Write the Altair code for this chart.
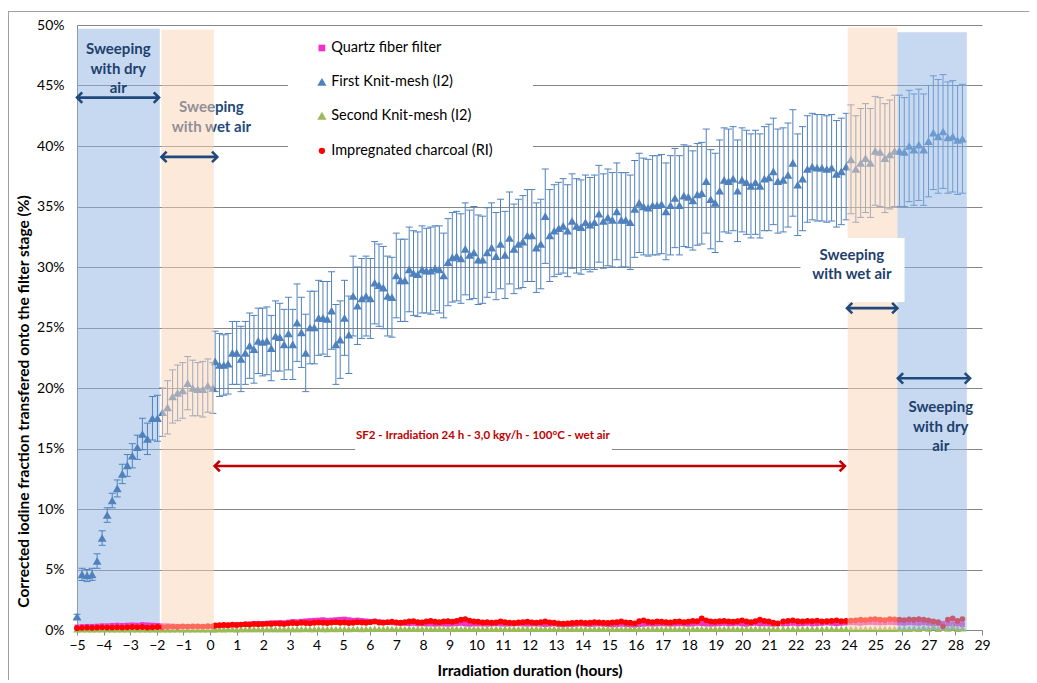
import altair as alt
import pandas as pd

alt.data_transformers.disable_max_rows()

# ---------------- data ----------------
# sampling schedule of the measurements (start hour, step in hours, number of samples)
SEG_START = [-5.0, 0.19, 10.24, 21.53]
SEG_STEP = [0.189, 0.162, 0.168, 0.182]
SEG_COUNT = [28, 62, 67, 38]

# First Knit-mesh (I2) (%)
KNIT1 = [
    1.1, 4.6, 4.5, 4.6, 5.7, 7.6, 9.5, 10.7, 11.7, 12.9, 13.6, 14.4, 15.1, 16.2, 15.8, 17.5, 17.5, 18.0, 18.4, 19.3,
    19.6, 19.8, 20.4, 20.0, 19.9, 19.9, 20.2, 20.0,
    22.2, 21.9, 21.9, 22.0, 22.9, 22.9, 22.4, 22.9, 23.5, 23.2, 23.9, 23.8, 23.9, 23.3, 24.3, 24.2, 23.6, 24.5, 23.6, 25.4,
    24.6, 22.9, 25.0, 25.0, 25.8, 25.8, 25.7, 26.4, 23.6, 24.0, 25.8, 24.4, 27.6, 26.8, 27.4, 27.6, 27.4, 28.7, 28.5, 28.3,
    27.6, 27.5, 29.3, 28.9, 28.9, 29.8, 29.5, 29.4, 29.8, 29.7, 29.7, 29.9, 29.8, 29.3, 30.4, 30.8, 30.9, 30.7, 31.5, 31.0,
    31.2, 30.6,
    30.6, 31.2, 31.6, 30.9, 31.9, 31.0, 32.4, 31.5, 31.9, 32.1, 32.6, 32.6, 31.6, 31.9, 34.2, 32.6, 33.0, 33.2, 33.4, 33.0,
    33.8, 33.4, 33.3, 33.7, 33.5, 33.7, 34.4, 33.8, 34.1, 33.9, 34.6, 33.9, 33.9, 33.7, 34.8, 35.3, 35.0, 34.9, 35.1, 35.1,
    35.2, 34.6, 35.1, 35.7, 35.1, 35.9, 35.8, 35.5, 36.0, 36.1, 37.1, 35.6, 35.3, 36.3, 37.2, 37.1, 37.3, 36.3, 37.2, 37.0,
    36.7, 37.0, 36.7, 37.3, 37.4, 37.9, 37.1,
    37.2, 37.6, 38.6, 36.8, 37.3, 38.1, 38.3, 38.2, 38.2, 38.1, 38.2, 37.7, 37.9, 38.3, 38.9, 38.1, 38.6, 39.0, 38.6, 39.6,
    39.5, 39.0, 39.3, 39.6, 39.6, 39.5, 40.0, 39.7, 40.1, 39.7, 40.4, 41.1, 40.8, 41.2, 40.7, 40.8, 40.5, 40.6,
]
# error bar half-width of the First Knit-mesh (%)
KNIT1_ERR = [
    0.2, 0.5, 0.5, 0.5, 0.6, 0.6, 0.6, 0.6, 0.7, 0.8, 0.9, 1.0, 1.0, 1.3, 1.3, 1.8, 1.9, 2.0, 2.2, 2.2,
    2.3, 2.3, 2.2, 2.3, 2.2, 2.3, 2.2, 2.1,
    2.5, 2.6, 2.5, 2.5, 2.6, 2.6, 2.7, 2.6, 2.7, 2.8, 2.7, 2.8, 2.8, 2.7, 2.9, 2.8, 2.9, 3.0, 2.9, 3.2,
    2.9, 3.2, 3.0, 3.0, 3.1, 3.0, 3.1, 3.2, 3.3, 3.2, 3.1, 3.2, 3.3, 3.2, 3.3, 3.3, 3.3, 3.4, 3.4, 3.4,
    3.3, 3.3, 3.5, 3.4, 3.4, 3.5, 3.5, 3.5, 3.6, 3.5, 3.6, 3.5, 3.6, 3.5, 3.6, 3.7, 3.7, 3.7, 3.8, 3.7,
    3.8, 3.7,
    3.6, 3.7, 3.7, 3.6, 3.7, 3.6, 3.8, 3.7, 3.7, 3.8, 3.8, 3.8, 3.7, 3.7, 3.9, 3.8, 3.8, 3.8, 3.9, 3.8,
    3.9, 3.9, 3.9, 3.9, 3.9, 3.9, 4.0, 3.9, 4.0, 3.9, 4.0, 3.9, 3.9, 3.9, 4.0, 4.1, 4.0, 4.0, 4.1, 4.1,
    4.1, 4.0, 4.1, 4.1, 4.1, 4.2, 4.2, 4.1, 4.2, 4.2, 4.3, 4.1, 4.1, 4.2, 4.3, 4.3, 4.3, 4.2, 4.3, 4.3,
    4.3, 4.3, 4.3, 4.3, 4.4, 4.4, 4.3,
    4.3, 4.3, 4.4, 4.2, 4.3, 4.4, 4.4, 4.4, 4.4, 4.4, 4.4, 4.4, 4.4, 4.4, 4.5, 4.4, 4.5, 4.5, 4.5, 4.5,
    4.5, 4.5, 4.5, 4.6, 4.6, 4.5, 4.6, 4.6, 4.6, 4.6, 4.6, 4.7, 4.7, 4.7, 4.6, 4.6, 4.5, 4.5,
]
# Quartz fiber filter (%)
QUARTZ = [
    0.25, 0.28, 0.3, 0.3, 0.32, 0.35, 0.35, 0.38, 0.4, 0.38, 0.4, 0.42, 0.4, 0.45, 0.42, 0.4, 0.38, 0.35, 0.35, 0.32,
    0.3, 0.3, 0.28, 0.3, 0.3, 0.28, 0.3, 0.3,
    0.35, 0.35, 0.38, 0.4, 0.4, 0.42, 0.45, 0.45, 0.5, 0.52, 0.55, 0.5, 0.55, 0.6, 0.58, 0.62, 0.6, 0.65, 0.7, 0.68,
    0.72, 0.75, 0.78, 0.8, 0.82, 0.85, 0.8, 0.82, 0.85, 0.88, 0.9, 0.85, 0.8, 0.82, 0.78, 0.75, 0.7, 0.72, 0.68, 0.65,
    0.62, 0.6, 0.58, 0.55, 0.55, 0.52, 0.55, 0.5, 0.52, 0.5, 0.5, 0.48, 0.5, 0.5, 0.48, 0.5, 0.52, 0.55, 0.5, 0.48,
    0.5, 0.5,
    0.5, 0.48, 0.5, 0.52, 0.5, 0.48, 0.5, 0.5, 0.52, 0.5, 0.48, 0.5, 0.5, 0.48, 0.45, 0.48, 0.5, 0.45, 0.42, 0.45,
    0.45, 0.48, 0.5, 0.48, 0.45, 0.48, 0.5, 0.48, 0.45, 0.42, 0.45, 0.48, 0.45, 0.42, 0.4, 0.45, 0.48, 0.5, 0.48, 0.5,
    0.52, 0.5, 0.48, 0.5, 0.52, 0.5, 0.48, 0.5, 0.55, 0.52, 0.5, 0.48, 0.5, 0.52, 0.55, 0.5, 0.52, 0.55, 0.5, 0.48,
    0.52, 0.55, 0.5, 0.52, 0.5, 0.48, 0.5,
    0.5, 0.52, 0.55, 0.5, 0.52, 0.55, 0.5, 0.52, 0.55, 0.58, 0.55, 0.52, 0.55, 0.58, 0.6, 0.58, 0.55, 0.6, 0.62, 0.6,
    0.58, 0.6, 0.62, 0.6, 0.58, 0.55, 0.6, 0.58, 0.55, 0.6, 0.55, 0.5, 0.52, 0.55, 0.5, 0.48, 0.5, 0.45,
]
# Second Knit-mesh (I2) (%)
KNIT2 = [
    0.05, 0.06, 0.05, 0.06, 0.05, 0.06, 0.06, 0.05, 0.06, 0.06, 0.05, 0.06, 0.06, 0.05, 0.06, 0.05, 0.06, 0.06, 0.05, 0.06,
    0.06, 0.05, 0.06, 0.06, 0.05, 0.06, 0.06, 0.05,
    0.06, 0.07, 0.06, 0.07, 0.07, 0.06, 0.07, 0.07, 0.08, 0.07, 0.07, 0.08, 0.07, 0.08, 0.08, 0.07, 0.08, 0.08, 0.07, 0.08,
    0.08, 0.09, 0.08, 0.08, 0.09, 0.08, 0.08, 0.09, 0.08, 0.09, 0.09, 0.08, 0.09, 0.09, 0.08, 0.09, 0.09, 0.1, 0.09, 0.09,
    0.1, 0.09, 0.09, 0.1, 0.09, 0.1, 0.1, 0.09, 0.1, 0.1, 0.09, 0.1, 0.1, 0.09, 0.1, 0.1, 0.1, 0.09, 0.1, 0.1,
    0.1, 0.09,
    0.1, 0.1, 0.09, 0.1, 0.1, 0.11, 0.1, 0.1, 0.09, 0.1, 0.1, 0.11, 0.1, 0.1, 0.1, 0.09, 0.1, 0.11, 0.1, 0.1,
    0.1, 0.1, 0.11, 0.1, 0.09, 0.1, 0.1, 0.11, 0.1, 0.1, 0.11, 0.1, 0.1, 0.1, 0.09, 0.1, 0.11, 0.1, 0.1, 0.11,
    0.1, 0.1, 0.1, 0.11, 0.1, 0.1, 0.09, 0.1, 0.11, 0.1, 0.1, 0.1, 0.11, 0.1, 0.1, 0.1, 0.11, 0.1, 0.1, 0.1,
    0.11, 0.1, 0.1, 0.11, 0.1, 0.1, 0.1,
    0.1, 0.11, 0.1, 0.1, 0.11, 0.1, 0.1, 0.1, 0.11, 0.1, 0.1, 0.11, 0.1, 0.1, 0.1, 0.11, 0.1, 0.1, 0.11, 0.1,
    0.1, 0.1, 0.11, 0.1, 0.12, 0.1, 0.1, 0.15, 0.1, 0.2, 0.12, 0.25, 0.1, 0.2, 0.12, 0.25, 0.1, 0.15,
]
# Impregnated charcoal (RI) (%)
CHARCOAL = [
    0.15, 0.18, 0.2, 0.18, 0.2, 0.22, 0.2, 0.2, 0.22, 0.2, 0.22, 0.25, 0.22, 0.25, 0.2, 0.22, 0.25, 0.22, 0.25, 0.28,
    0.25, 0.3, 0.28, 0.3, 0.3, 0.28, 0.32, 0.3,
    0.38, 0.4, 0.42, 0.4, 0.45, 0.42, 0.45, 0.48, 0.45, 0.5, 0.48, 0.5, 0.52, 0.5, 0.55, 0.52, 0.5, 0.55, 0.58, 0.55,
    0.6, 0.58, 0.55, 0.6, 0.62, 0.6, 0.58, 0.62, 0.65, 0.6, 0.62, 0.58, 0.6, 0.65, 0.62, 0.6, 0.65, 0.7, 0.62, 0.6,
    0.65, 0.68, 0.62, 0.6, 0.65, 0.7, 0.72, 0.65, 0.62, 0.7, 0.75, 0.68, 0.65, 0.7, 0.72, 0.68, 0.75, 0.85, 0.9, 0.78,
    0.7, 0.68,
    0.62, 0.65, 0.6, 0.62, 0.7, 0.65, 0.6, 0.58, 0.62, 0.65, 0.68, 0.62, 0.6, 0.65, 0.7, 0.62, 0.6, 0.55, 0.52, 0.55,
    0.58, 0.6, 0.62, 0.58, 0.6, 0.65, 0.62, 0.6, 0.58, 0.62, 0.65, 0.7, 0.62, 0.6, 0.55, 0.72, 0.8, 0.68, 0.65, 0.7,
    0.68, 0.65, 0.62, 0.68, 0.7, 0.65, 0.68, 0.75, 0.72, 0.95, 0.8, 0.7, 0.68, 0.72, 0.75, 0.7, 0.68, 0.72, 0.8, 0.7,
    0.65, 0.72, 0.85, 0.75, 0.7, 0.6, 0.55,
    0.7, 0.75, 0.8, 0.72, 0.7, 0.75, 0.72, 0.78, 0.7, 0.72, 0.75, 0.8, 0.72, 0.75, 0.78, 0.8, 0.85, 0.82, 0.88, 0.9,
    0.85, 0.82, 0.9, 0.88, 0.85, 0.82, 0.88, 0.85, 0.9, 0.85, 0.8, 0.7, 0.65, 0.3, 0.85, 0.95, 0.75, 0.9,
]

X_TICKS = list(range(-5, 30))
Y_TICKS = [0, 5, 10, 15, 20, 25, 30, 35, 40, 45, 50]

# shaded sweeping phases: the first one lies under the data, the others over it
BAND_X0 = [-5.0, -1.83, 23.95, 25.82]
BAND_X1 = [-1.89, 0.14, 25.82, 28.43]
BAND_TOP = [49.7, 49.6, 49.8, 49.4]
BAND_COLOR = ["#8DB3E2", "#FBD4B4", "#FBD4B4", "#8DB3E2"]

# double arrows
ARROW_X0 = [-5.0, -1.83, 23.93, 25.84, 0.17]
ARROW_X1 = [-1.92, 0.27, 25.82, 28.55, 23.85]
ARROW_Y = [44.0, 39.1, 26.6, 20.8, 13.55]
ARROW_COLOR = ["#1F497D", "#1F497D", "#1F497D", "#1F497D", "#C00000"]

# annotations (y = first text line)
NOTE_TEXT = ["Sweeping\nwith dry\nair", "Sweeping\nwith wet air", "Sweeping\nwith dry\nair"]
NOTE_X = [-3.45, 24.11, 27.45]
NOTE_Y = [48.0, 31.0, 18.4]
WET_LEFT_TEXT = ["Sweeping\nwith wet air"]
WET_LEFT_X = [0.05]
WET_LEFT_Y = [43.2]
RED_TEXT = ["SF2 - Irradiation 24 h - 3,0 kgy/h - 100°C - wet air"]
RED_X = [10.25]
RED_Y = [16.0]

# white boxes behind legend and labels
BOX_X0 = [2.93, 5.45, 22.18]
BOX_X1 = [12.13, 15.1, 26.09]
BOX_Y0 = [38.6, 14.3, 27.1]
BOX_Y1 = [49.4, 16.9, 32.4]

# legend
LEG_LABEL = ["Quartz fiber filter", "First Knit-mesh (I2)", "Second Knit-mesh (I2)", "Impregnated charcoal (RI)"]
LEG_SHAPE = ["square", "triangle-up", "triangle-up", "circle"]
LEG_COLOR = ["#F032C8", "#4F81BD", "#9BBB59", "#FF0000"]
LEG_SIZE = [45, 85, 85, 40]
LEG_Y = [48.1, 45.3, 42.5, 39.6]
LEG_SYM_X = 4.2
LEG_TXT_X = 4.55

# ---------------- build ----------------
times = []
for s, d, n in zip(SEG_START, SEG_STEP, SEG_COUNT):
    times += [round(s + i * d, 3) for i in range(n)]

df = pd.DataFrame({"t": times, "knit1": KNIT1, "err": KNIT1_ERR,
                   "quartz": QUARTZ, "knit2": KNIT2, "charcoal": CHARCOAL})
df["lo"] = df["knit1"] - df["err"]
df["hi"] = df["knit1"] + df["err"]

FONT = "Lato"
XS = alt.Scale(domain=[-5, 29], nice=False, zero=False, padding=0)
YS = alt.Scale(domain=[0, 50], nice=False, zero=False, padding=0)
XAX = alt.Axis(values=X_TICKS, title="Irradiation duration (hours)", grid=False, labelFlush=False,
               labelOverlap=False, labelFontSize=14, labelColor="#000", labelFont=FONT, labelPadding=3,
               domainColor="#868686", tickColor="#868686", tickSize=5,
               titleFont=FONT, titleFontSize=15.5, titleFontWeight="bold", titleColor="#000",
               titlePadding=11)
YAX = alt.Axis(values=Y_TICKS, title="Corrected iodine fraction transfered onto the filter stage (%)",
               labelExpr="datum.value + '%'", grid=True, gridColor="#868686", gridWidth=1,
               labelFlush=False, ticks=False, labelFontSize=14, labelColor="#000", labelFont=FONT,
               labelPadding=13, domainColor="#868686", titleFont=FONT, titleFontSize=15.5,
               titleFontWeight="bold", titleColor="#000", titleX=-54, titleY=376,
               titleBaseline="middle", titleAlign="center", titleAngle=270)


def xe(f):
    return alt.X(f"{f}:Q", scale=XS, axis=XAX)


def ye(f):
    return alt.Y(f"{f}:Q", scale=YS, axis=YAX)


one = pd.DataFrame({"k": [0]})
frame_left = alt.Chart(one).mark_rule(color="#A0A0A0", strokeWidth=1).encode(
    x=alt.value(-68.5), y=alt.value(-14), y2=alt.value(670))
frame_top = alt.Chart(one).mark_rule(color="#A0A0A0", strokeWidth=1).encode(
    x=alt.value(-68.5), x2=alt.value(960), y=alt.value(-13.5))

boxes = pd.DataFrame({"x0": BOX_X0, "x1": BOX_X1, "y0": BOX_Y0, "y1": BOX_Y1})
box_legend = alt.Chart(boxes.iloc[[0]]).mark_rect(color="white").encode(
    x=xe("x0"), x2="x1", y=ye("y0"), y2="y1")
box_labels = alt.Chart(boxes.iloc[[1, 2]]).mark_rect(color="white").encode(
    x=xe("x0"), x2="x1", y=ye("y0"), y2="y1")

band_df = pd.DataFrame({"x0": BAND_X0, "x1": BAND_X1, "top": BAND_TOP, "c": BAND_COLOR,
                        "bot": [0, 0, 0, 0]})


def band_layer(rows):
    return alt.Chart(band_df.iloc[rows]).mark_rect(opacity=0.5).encode(
        x=xe("x0"), x2="x1", y=ye("bot"), y2="top", color=alt.Color("c:N", scale=None))


band_under = band_layer([0])
band_over = band_layer([1, 2, 3])

base = alt.Chart(df)
quartz = base.mark_point(shape="square", filled=True, size=24, color="#F032C8", opacity=1).encode(
    x=xe("t"), y=ye("quartz"))
err_rule = base.mark_rule(color="#4F81BD", strokeWidth=1).encode(x=xe("t"), y=ye("lo"), y2="hi")
cap_lo = base.mark_tick(orient="horizontal", color="#4F81BD", size=7, thickness=1, opacity=1).encode(
    x=xe("t"), y=ye("lo"))
cap_hi = base.mark_tick(orient="horizontal", color="#4F81BD", size=7, thickness=1, opacity=1).encode(
    x=xe("t"), y=ye("hi"))
knit1 = base.mark_point(shape="triangle-up", filled=True, size=78, color="#4F81BD", opacity=1).encode(
    x=xe("t"), y=ye("knit1"))
knit2 = base.mark_point(shape="triangle-up", filled=True, size=55, color="#9BBB59", opacity=1).encode(
    x=xe("t"), y=ye("knit2"))
charcoal = base.mark_circle(size=34, color="#FF0000", opacity=1).encode(x=xe("t"), y=ye("charcoal"))

wet_left = alt.Chart(pd.DataFrame({"x": WET_LEFT_X, "y": WET_LEFT_Y, "txt": WET_LEFT_TEXT})).mark_text(
    lineBreak="\n", font=FONT, fontSize=15, fontWeight="bold", color="#1F497D", lineHeight=20,
    align="center", baseline="middle").encode(x=xe("x"), y=ye("y"), text="txt:N")

arr = pd.DataFrame({"x0": ARROW_X0, "x1": ARROW_X1, "y": ARROW_Y, "c": ARROW_COLOR})
arrow_lines = alt.Chart(arr).mark_rule(strokeWidth=2.6).encode(
    x=xe("x0"), x2="x1", y=ye("y"), color=alt.Color("c:N", scale=None))
head_left = alt.Chart(arr).mark_point(shape="M 1 -1 L 0 0 L 1 1", filled=False, size=110,
                                      strokeWidth=2.6, opacity=1).encode(
    x=xe("x0"), y=ye("y"), color=alt.Color("c:N", scale=None))
head_right = alt.Chart(arr).mark_point(shape="M -1 -1 L 0 0 L -1 1", filled=False, size=110,
                                       strokeWidth=2.6, opacity=1).encode(
    x=xe("x1"), y=ye("y"), color=alt.Color("c:N", scale=None))

notes = alt.Chart(pd.DataFrame({"x": NOTE_X, "y": NOTE_Y, "txt": NOTE_TEXT})).mark_text(
    lineBreak="\n", font=FONT, fontSize=15, fontWeight="bold", color="#1F3F6E", lineHeight=19.5,
    align="center", baseline="middle").encode(x=xe("x"), y=ye("y"), text="txt:N")
red_note = alt.Chart(pd.DataFrame({"x": RED_X, "y": RED_Y, "txt": RED_TEXT})).mark_text(
    font=FONT, fontSize=11.5, fontWeight="bold", color="#C00000", align="center",
    baseline="middle").encode(x=xe("x"), y=ye("y"), text="txt:N")

leg = pd.DataFrame({"lab": LEG_LABEL, "shape": LEG_SHAPE, "c": LEG_COLOR, "s": LEG_SIZE, "y": LEG_Y,
                    "xs": [LEG_SYM_X] * 4, "xt": [LEG_TXT_X] * 4})
leg_sym = alt.Chart(leg).mark_point(filled=True, opacity=1).encode(
    x=xe("xs"), y=ye("y"), shape=alt.Shape("shape:N", scale=None),
    color=alt.Color("c:N", scale=None), size=alt.Size("s:Q", scale=None))
leg_txt = alt.Chart(leg).mark_text(font=FONT, fontSize=14.5, color="#000", align="left",
                                   baseline="middle").encode(x=xe("xt"), y=ye("y"), text="lab:N")

chart = alt.layer(
    frame_left, frame_top, box_legend, band_under,
    quartz, err_rule, cap_lo, cap_hi, knit1, knit2, charcoal,
    wet_left, band_over, box_labels,
    arrow_lines, head_left, head_right, notes, red_note, leg_sym, leg_txt,
).properties(
    width=905, height=605,
    autosize=alt.AutoSizeParams(type="none"),
    padding={"left": 69, "top": 17, "right": 47, "bottom": 50},
    background="white",
).configure_view(stroke=None)

chart.save("out.html", embed_options={"renderer": "svg", "actions": False})
